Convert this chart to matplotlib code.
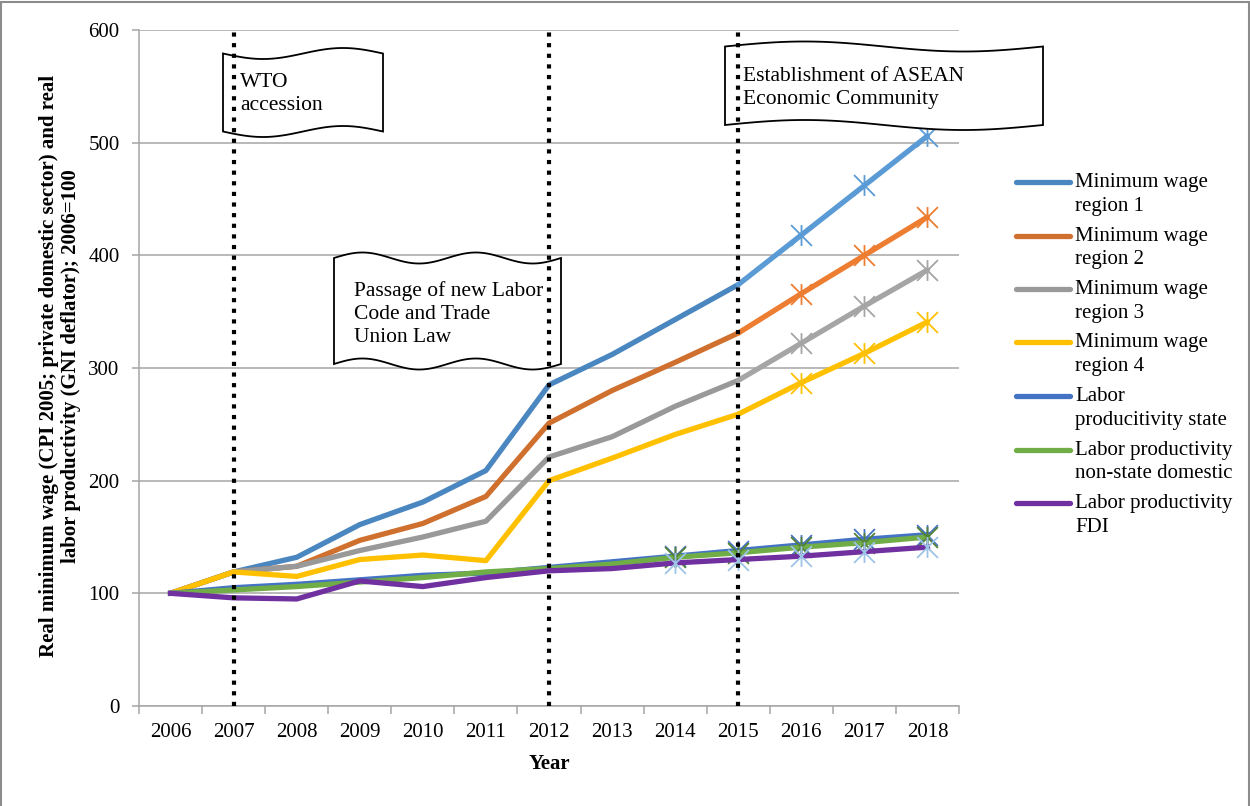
import numpy as np
import matplotlib
matplotlib.use("Agg")
import matplotlib.pyplot as plt
from matplotlib.path import Path
from matplotlib.patches import Polygon, Rectangle
from matplotlib.lines import Line2D

plt.rcParams['font.family'] = ['Liberation Serif', 'DejaVu Serif']

# data
years = ['2006', '2007', '2008', '2009', '2010', '2011', '2012',
         '2013', '2014', '2015', '2016', '2017', '2018']
wage_r1 = [100, 119, 132, 161, 181, 209, 285, 312, 343, 374, 418, 462, 506]
wage_r2 = [100, 119, 124, 147, 162, 186, 251, 280, 305, 331, 366, 400, 434]
wage_r3 = [100, 119, 124, 138, 150, 164, 221, 239, 266, 289, 322, 355, 387]
wage_r4 = [100, 119, 115, 130, 134, 129, 200, 220, 241, 259, 287, 313, 341]
prod_state = [100, 105, 108, 112, 116, 118, 123, 128, 133, 138, 143, 148, 152]
prod_dom = [100, 103, 106, 110, 114, 119, 122, 126, 132, 136, 141, 145, 150]
prod_fdi = [100, 96, 95, 111, 106, 114, 120, 122, 127, 130, 133, 137, 141]

event_years = ['2007', '2012', '2015']
legend_labels = ['Minimum wage\nregion 1', 'Minimum wage\nregion 2',
                 'Minimum wage\nregion 3', 'Minimum wage\nregion 4',
                 'Labor\nproducitivity state', 'Labor productivity\nnon-state domestic',
                 'Labor productivity\nFDI']

W, H = 1250, 806
fig = plt.figure(figsize=(W / 100, H / 100), dpi=100)
ax = fig.add_axes([139 / W, 1 - 706 / H, 820 / W, 676 / H])

# Excel style star marker: an X with a vertical bar
star = Path([(-1, -1), (1, 1), (-1, 1), (1, -1), (0, -1), (0, 1)],
            [Path.MOVETO, Path.LINETO, Path.MOVETO, Path.LINETO, Path.MOVETO, Path.LINETO])

x = np.arange(len(years))
lw = 3.8
ms = 15
fs = 15
wages = [(wage_r1, '#4A86BF', '#5B9BD5'),
         (wage_r2, '#D0702E', '#ED7D31'),
         (wage_r3, '#999999', '#A5A5A5'),
         (wage_r4, '#FFC000', '#FFC000')]
for vals, dark, light in wages:
    v = np.array(vals)
    ax.plot(x[:10], v[:10], color=dark, lw=lw, solid_capstyle='round', zorder=3)
    ax.plot(x[9:], v[9:], color=light, lw=lw, solid_capstyle='round', zorder=3,
            marker=star, markevery=[1, 2, 3], ms=ms, mec=light, mew=1.3)

ax.plot(x, prod_state, color='#4472C4', lw=lw, zorder=3,
        marker=star, markevery=list(range(8, 13)), ms=ms, mec='#4472C4', mew=1.3)
ax.plot(x, prod_dom, color='#70AD47', lw=lw, zorder=3,
        marker=star, markevery=list(range(8, 13)), ms=ms, mec='#548235', mew=1.3)
ax.plot(x, prod_fdi, color='#7030A0', lw=lw, zorder=3,
        marker=star, markevery=list(range(8, 13)), ms=ms, mec='#9DC3E6', mew=1.3)

for ev in event_years:
    ax.axvline(years.index(ev), color='black', lw=3, ls=(0, (1, 1.55)),
               dash_capstyle='butt', zorder=6)

ax.set_xlim(-0.5, 12.5)
ax.set_ylim(0, 600)
ax.set_yticks(range(0, 601, 100))
ax.yaxis.grid(True, color='#A6A6A6', lw=1.1)
ax.set_axisbelow(True)
ax.set_xticks(np.arange(-0.5, 13, 1))
ax.set_xticklabels([])
ax.set_xticks(x, minor=True)
ax.set_xticklabels(years, minor=True)
ax.tick_params(axis='x', which='major', length=6, color='#A6A6A6', width=1.1)
ax.tick_params(axis='x', which='minor', length=0, pad=12, labelsize=fs)
ax.tick_params(axis='y', length=5, color='#A6A6A6', width=1.1, labelsize=fs, pad=9)
for s in ['top', 'right']:
    ax.spines[s].set_visible(False)
for s in ['left', 'bottom']:
    ax.spines[s].set_color('#A6A6A6')
    ax.spines[s].set_linewidth(1.1)

ax.set_xlabel('Year', fontsize=fs, fontweight='bold', labelpad=9)
fig.text(60 / W, 1 - 366 / H,
         'Real minimum wage (CPI 2005; private domestic sector) and real\n'
         'labor productivity (GNI deflator); 2006=100',
         rotation=90, ha='center', va='center', fontsize=15,
         fontweight='bold', linespacing=1.15)


def banner(x0, x1, ytop, ybot, amp, waves, sign):
    t = np.linspace(0, 1, 200)
    xs = x0 + (x1 - x0) * t
    wob = sign * amp * np.sin(2 * np.pi * waves * t)
    top = np.column_stack([xs, ytop + wob])
    bot = np.column_stack([xs[::-1], (ybot + wob)[::-1]])
    pts = np.vstack([top, bot])
    pts = np.column_stack([pts[:, 0] / W, 1 - pts[:, 1] / H])
    ax.add_patch(Polygon(pts, closed=True, transform=fig.transFigure, clip_on=False,
                         facecolor='white', edgecolor='black', lw=1.3, zorder=5))


banner(223, 383, 53.5, 131.5, 5.5, 1, 1)
banner(334, 561, 258, 364, 5.5, 2, -1)
banner(725, 1043, 46.5, 125, 5, 1, -1)

txt_kw = dict(fontsize=15.5, ha='left', va='center', linespacing=1.3, zorder=7)
fig.text(240 / W, 1 - 94 / H, 'WTO\naccession', **txt_kw)
fig.text(354 / W, 1 - 314 / H, 'Passage of new Labor\nCode and Trade\nUnion Law', **txt_kw)
fig.text(743 / W, 1 - 88 / H, 'Establishment of ASEAN\nEconomic Community', **txt_kw)

# legend drawn by hand (Excel aligns the key with the first text line)
leg_colors = ['#4A86BF', '#D0702E', '#999999', '#FFC000', '#4472C4', '#70AD47', '#7030A0']
for i, (lab, col) in enumerate(zip(legend_labels, leg_colors)):
    yy = 182 + i * 53.5
    fig.add_artist(Line2D([1016 / W, 1070 / W], [1 - yy / H, 1 - yy / H],
                          color=col, lw=lw, solid_capstyle='round'))
    fig.text(1075 / W, 1 - (yy - 9) / H, lab, fontsize=fs, ha='left', va='top',
             linespacing=1.33)

fig.add_artist(Rectangle((1.5 / W, -0.01), 1 - 3 / W, 1 - 1.5 / H + 0.01,
                         transform=fig.transFigure, fill=False,
                         edgecolor='#8C8C8C', lw=1.5))

fig.savefig('out.png', dpi=100)
